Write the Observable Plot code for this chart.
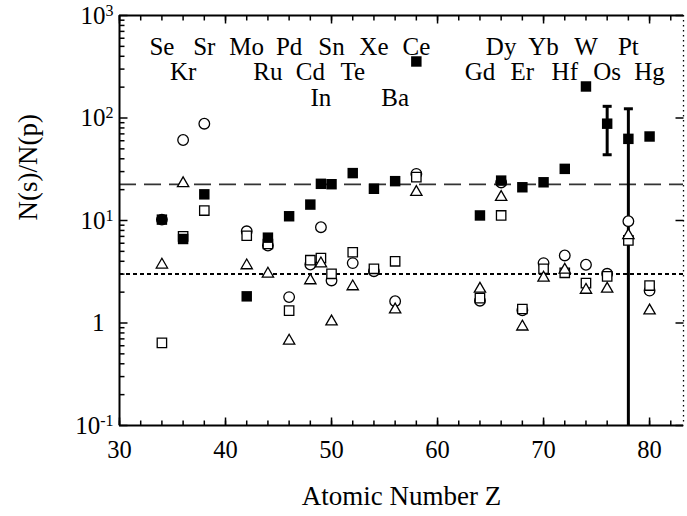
<!DOCTYPE html>
<html><head><meta charset="utf-8">
<script src="https://cdn.jsdelivr.net/npm/d3@7"></script>
<script src="https://cdn.jsdelivr.net/npm/@observablehq/plot@0.6"></script>
<style>
body{margin:0;background:#fff}
svg, svg text{font-family:"Liberation Serif","Times New Roman",serif !important}
</style>
</head><body><div id="chart"></div>
<script>
// ---- data ----
const elements = ["Se","Kr","Sr","Mo","Ru","Pd","Cd","In","Sn","Te","Xe","Ba","Ce","Gd","Dy","Er","Yb","Hf","W","Os","Pt","Hg"];
const Z        = [34,36,38,42,44,46,48,49,50,52,54,56,58,64,66,68,70,72,74,76,78,80];
const labelRow = [0,1,0,0,1,0,1,2,0,1,0,2,0,1,0,1,0,1,0,1,0,1];
const filledSquare = [10.2,6.6,18,1.82,6.8,11,14.3,22.8,22.6,29,20.4,24.2,356,11.2,24.5,21.1,23.6,31.9,203,88,62.6,66];
const openCircle   = [10.2,61,88,7.85,5.7,1.79,3.72,8.6,2.6,3.84,3.2,1.63,28.5,1.65,23.5,1.33,3.84,4.56,3.7,3.02,9.85,2.07];
const openSquare   = [0.64,7.0,12.5,7.1,5.9,1.32,4.1,4.3,3.02,4.9,3.38,4.0,26.5,1.75,11.2,1.37,3.38,3.09,2.45,2.85,6.4,2.32];
const openTriangle = [3.7,23,null,3.64,3.02,0.67,2.6,3.8,1.03,2.27,null,1.35,18.9,2.15,16.9,0.92,2.76,3.3,2.1,2.15,7.15,1.32];
const errZ    = [76,78];
const errLow  = [43.8,0.01];
const errHigh = [130,123];
const dashedLevel = [22.5];
const dottedLevel = [3.0];
const xTicks = [30,40,50,60,70,80];
const yTickValues = [1000,100,10,1,0.1];
const yTickLabels = ["10^3","10^2","10^1","1","10^-1"];
const xDomain = [30,83.2];
const yDomain = [0.1,1000];

// ---- build ----
const FONT = '"Liberation Serif","Times New Roman",serif';
const rows = Z.map((z,i)=>({z, el:elements[i], row:labelRow[i], fs:filledSquare[i], oc:openCircle[i], os:openSquare[i], ot:openTriangle[i]}));
const errs = errZ.map((z,i)=>({z, lo:errLow[i], hi:errHigh[i]}));
const xMinor = d3.range(xDomain[0], xDomain[1], 2);
const yAll = d3.scaleLog().domain(yDomain).ticks();
const yMinor = yAll.filter(v => !yTickValues.some(t => Math.abs(Math.log10(v) - Math.log10(t)) < 1e-9));
const seg = (dx,dy) => ({draw(ctx){ctx.moveTo(0,0);ctx.lineTo(dx,dy);}});
const capSym = {draw(ctx){ctx.moveTo(-4.5,0);ctx.lineTo(4.5,0);}};
const tickStyle = {stroke:"black", strokeWidth:1.5, r:1, fill:"none"};
const rowLabels = [0,1,2].map(r => Plot.text(rows.filter(d=>d.row===r), {x:"z", text:"el", frameAnchor:"top", dy:31 + r*25.5, fontSize:25, fontFamily:FONT, lineAnchor:"middle"}));

const chart = Plot.plot({
  width:687, height:516,
  marginLeft:119, marginRight:4, marginTop:15, marginBottom:91,
  style:{fontFamily:FONT, background:"white", color:"black"},
  x:{domain:xDomain, axis:null},
  y:{type:"log", domain:yDomain, axis:null},
  marks:[
    Plot.ruleY(dashedLevel, {stroke:"#333", strokeWidth:1.6, strokeDasharray:"17,8"}),
    Plot.ruleY(dottedLevel, {stroke:"black", strokeWidth:2, strokeDasharray:"4,3"}),
    Plot.ruleX(errs, {x:"z", y1:"lo", y2:"hi", stroke:"black", strokeWidth:3, clip:true}),
    Plot.dot(errs, {x:"z", y:"hi", symbol:capSym, stroke:"black", strokeWidth:3, r:1}),
    Plot.dot(errs.filter(d=>d.lo>yDomain[0]), {x:"z", y:"lo", symbol:capSym, stroke:"black", strokeWidth:3, r:1}),
    Plot.dot(rows.filter(d=>d.oc!=null), {x:"z", y:"oc", symbol:"circle", r:5.3, fill:"white", stroke:"black", strokeWidth:1.3}),
    Plot.dot(rows.filter(d=>d.os!=null), {x:"z", y:"os", symbol:"square", r:5.3, fill:"white", stroke:"black", strokeWidth:1.3}),
    Plot.dot(rows.filter(d=>d.ot!=null), {x:"z", y:"ot", symbol:"triangle", r:4.2, fill:"white", stroke:"black", strokeWidth:1.3}),
    Plot.dot(rows.filter(d=>d.fs!=null), {x:"z", y:"fs", symbol:"square", r:5.9, fill:"black", stroke:"none"}),
    ...rowLabels,
    Plot.ruleX([xDomain[0]], {stroke:"black", strokeWidth:2}),
    Plot.ruleY([yDomain[0]], {stroke:"black", strokeWidth:2}),
    Plot.ruleY([yDomain[1]], {stroke:"black", strokeWidth:2}),
    Plot.ruleX([xDomain[1]], {stroke:"black", strokeWidth:1.3, strokeDasharray:"1.5,3.5"}),
    Plot.dot(yTickValues, {y:d=>d, frameAnchor:"left", symbol:seg(8,0), ...tickStyle}),
    Plot.dot(yMinor, {y:d=>d, frameAnchor:"left", symbol:seg(5,0), ...tickStyle}),
    Plot.dot(yTickValues, {y:d=>d, frameAnchor:"right", symbol:seg(-8,0), ...tickStyle}),
    Plot.dot(xTicks, {x:d=>d, frameAnchor:"bottom", symbol:seg(0,-8), ...tickStyle}),
    Plot.dot(xMinor, {x:d=>d, frameAnchor:"bottom", symbol:seg(0,-5), ...tickStyle}),
    Plot.dot(xTicks, {x:d=>d, frameAnchor:"top", symbol:seg(0,8), ...tickStyle}),
    Plot.dot(xMinor, {x:d=>d, frameAnchor:"top", symbol:seg(0,5), ...tickStyle}),
    Plot.text(xTicks, {x:d=>d, frameAnchor:"bottom", dy:25, fontSize:24.5, fontFamily:FONT, lineAnchor:"middle"}),
    Plot.text(yTickValues, {y:d=>d, text:(d,i)=>yTickLabels[i], filter:d=>d!==1, frameAnchor:"left", dx:-6, textAnchor:"end", fontSize:25, fontFamily:FONT, lineAnchor:"middle"}),
    Plot.text(yTickValues, {y:d=>d, text:(d,i)=>yTickLabels[i], filter:d=>d===1, frameAnchor:"left", dx:-15, textAnchor:"end", fontSize:25, fontFamily:FONT, lineAnchor:"middle"}),
    Plot.text(["N(s)/N(p)"], {frameAnchor:"left", dx:-91, rotate:-90, fontSize:27, fontFamily:FONT, lineAnchor:"middle"}),
    Plot.text(["Atomic Number Z"], {frameAnchor:"bottom", dx:0, dy:71, fontSize:27, fontFamily:FONT, lineAnchor:"middle"})
  ]
});

d3.select(chart).selectAll("text").each(function(){
  const t = this.textContent;
  if (/^10\^/.test(t)) {
    const [base, exp] = t.split("^");
    const sel = d3.select(this);
    sel.text(null);
    sel.append("tspan").text(base);
    sel.append("tspan").attr("dy","-0.5em").attr("font-size","16px").text(exp);
  }
});
document.getElementById("chart").appendChild(chart);
</script>
</body></html>
